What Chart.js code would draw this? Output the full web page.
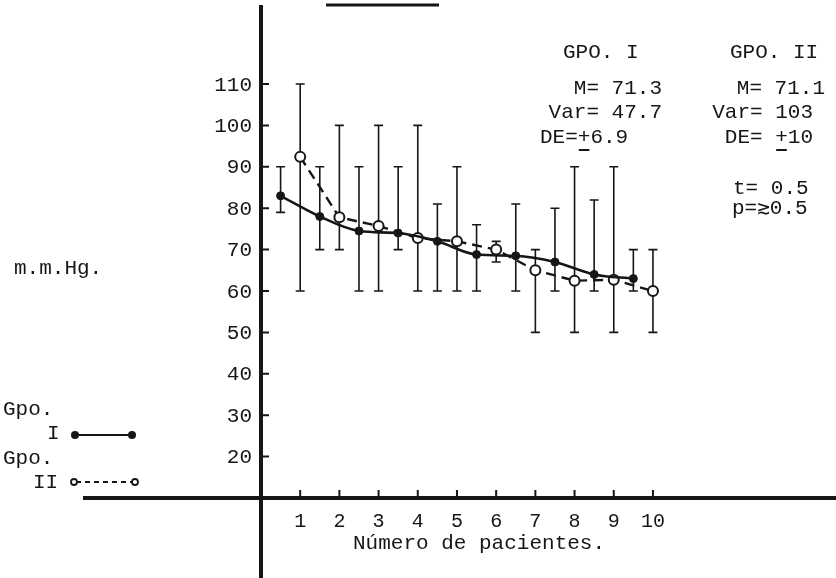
<!DOCTYPE html>
<html>
<head>
<meta charset="utf-8">
<script src="https://cdn.jsdelivr.net/npm/chart.js@4"></script>
<style>
  html, body { margin: 0; padding: 0; background: #fff; }
  #contGrafica { width: 836px; height: 578px; }
</style>
</head>
<body>
<div id="contGrafica"><canvas id="graphicChart"></canvas></div>
<script>
// ejes
const xTicks = [1, 2, 3, 4, 5, 6, 7, 8, 9, 10];
const yTicks = [20, 30, 40, 50, 60, 70, 80, 90, 100, 110];

// Gpo. I (linea continua, puntos llenos)
const gpoIx = [0.5, 1.5, 2.5, 3.5, 4.5, 5.5, 6.5, 7.5, 8.5, 9.5];
const gpoIy = [83, 78, 74.5, 74, 72, 68.8, 68.5, 67, 64, 63];
const gpoIlow = [79, 70, 60, 70, 60, 60, 60, 60, 60, 60];
const gpoIhigh = [90, 90, 90, 90, 81, 76, 81, 80, 82, 70];

// Gpo. II (linea punteada, puntos vacios)
const gpoIIx = [1, 2, 3, 4, 5, 6, 7, 8, 9, 10];
const gpoIIy = [92.4, 77.8, 75.7, 72.8, 72, 70, 65, 62.5, 62.7, 60];
const gpoIIlow = [60, 70, 60, 60, 60, 67, 50, 50, 50, 50];
const gpoIIhigh = [110, 100, 100, 100, 90, 72, 70, 90, 90, 70];

const tinta = "#161616";
const fuente = "'Liberation Mono', 'DejaVu Sans Mono', monospace";

const sinPadding = (s) => {
  s.paddingLeft = 0;
  s.paddingRight = 0;
  s.paddingTop = 0;
  s.paddingBottom = 0;
};

const errorBars = {
  id: "errorBars",
  beforeDatasetsDraw(chart) {
    const { ctx, scales: { x, y } } = chart;
    const dibujar = (xs, lo, hi) => {
      xs.forEach((v, i) => {
        const px = x.getPixelForValue(v);
        const p1 = y.getPixelForValue(lo[i]);
        const p2 = y.getPixelForValue(hi[i]);
        ctx.beginPath();
        ctx.moveTo(px, p1); ctx.lineTo(px, p2);
        ctx.moveTo(px - 4.5, p1); ctx.lineTo(px + 4.5, p1);
        ctx.moveTo(px - 4.5, p2); ctx.lineTo(px + 4.5, p2);
        ctx.stroke();
      });
    };
    ctx.save();
    ctx.strokeStyle = tinta;
    ctx.lineWidth = 1.6;
    dibujar(gpoIx, gpoIlow, gpoIhigh);
    dibujar(gpoIIx, gpoIIlow, gpoIIhigh);
    ctx.restore();
  },
};

const textos = {
  id: "textos",
  afterDraw(chart) {
    const { ctx, scales: { x, y } } = chart;
    ctx.save();
    ctx.strokeStyle = tinta;
    ctx.fillStyle = tinta;

    // marcas de los ejes hacia dentro
    const x0 = x.getPixelForValue(0);
    const y0 = y.getPixelForValue(10);
    ctx.lineWidth = 2;
    ctx.beginPath();
    yTicks.forEach((v) => {
      const py = y.getPixelForValue(v);
      ctx.moveTo(x0 + 1, py); ctx.lineTo(x0 + 8, py);
    });
    xTicks.forEach((v) => {
      const px = x.getPixelForValue(v);
      ctx.moveTo(px, y0 - 1); ctx.lineTo(px, y0 - 8);
    });
    ctx.stroke();

    // raya superior
    ctx.lineWidth = 3;
    ctx.beginPath();
    ctx.moveTo(326, 5); ctx.lineTo(439, 5);
    ctx.stroke();

    ctx.font = `21px ${fuente}`;
    ctx.textBaseline = "middle";
    const escribir = (t, px, py, align = "left") => {
      ctx.textAlign = align;
      ctx.fillText(t, px, py);
    };

    // etiquetas del eje y, a la izquierda de la linea
    yTicks.forEach((v) => escribir(String(v), x0 - 9, y.getPixelForValue(v) + 1, "right"));

    const subrayarMas = (antes, px, py, align = "left", total = "") => {
      const w0 = ctx.measureText(antes).width;
      const wMas = ctx.measureText("+").width;
      const inicio = align === "left" ? px : px - ctx.measureText(total).width;
      ctx.lineWidth = 2;
      ctx.beginPath();
      ctx.moveTo(inicio + w0 + 1, py + 13);
      ctx.lineTo(inicio + w0 + wMas - 1, py + 13);
      ctx.stroke();
    };

    escribir("GPO. I", 563, 52);
    escribir("GPO. II", 730, 52);
    escribir("M= 71.3", 662, 88, "right");
    escribir("Var= 47.7", 662, 112, "right");
    escribir("DE=+6.9", 540, 137);
    subrayarMas("DE=", 540, 137);
    escribir("M= 71.1", 825, 88, "right");
    escribir("Var= 103", 813, 112, "right");
    escribir("DE= +10", 813, 137, "right");
    subrayarMas("DE= ", 813, 137, "right", "DE= +10");
    escribir("t= 0.5", 733, 188);
    escribir("p=\u22730.5", 732, 208);

    escribir("m.m.Hg.", 14, 268);
    escribir("Número de pacientes.", 353, 543);

    // leyenda
    escribir("Gpo.", 3, 409);
    escribir("I", 47, 433);
    escribir("Gpo.", 3, 458);
    escribir("II", 33, 482);

    ctx.lineWidth = 2.2;
    ctx.beginPath();
    ctx.moveTo(75, 435); ctx.lineTo(132, 435);
    ctx.stroke();
    [75, 132].forEach((px) => {
      ctx.beginPath();
      ctx.arc(px, 435, 4, 0, Math.PI * 2);
      ctx.fill();
    });

    ctx.lineWidth = 1.8;
    ctx.setLineDash([5, 4]);
    ctx.beginPath();
    ctx.moveTo(76, 482); ctx.lineTo(133, 482);
    ctx.stroke();
    ctx.setLineDash([]);
    [74, 135].forEach((px) => {
      ctx.beginPath();
      ctx.arc(px, 482, 3, 0, Math.PI * 2);
      ctx.fillStyle = "#fff";
      ctx.fill();
      ctx.stroke();
    });
    ctx.restore();
  },
};

const ctx = document.querySelector("#graphicChart");
new Chart(ctx, {
  type: "line",
  data: {
    datasets: [
      {
        label: "Gpo. I",
        data: gpoIx.map((v, i) => ({ x: v, y: gpoIy[i] })),
        borderColor: tinta,
        borderWidth: 2.6,
        cubicInterpolationMode: "monotone",
        pointRadius: 4,
        pointBackgroundColor: tinta,
        pointBorderColor: tinta,
        pointBorderWidth: 1,
      },
      {
        label: "Gpo. II",
        data: gpoIIx.map((v, i) => ({ x: v, y: gpoIIy[i] })),
        borderColor: tinta,
        borderWidth: 2.4,
        borderDash: [10, 6],
        tension: 0,
        pointRadius: 5,
        pointBackgroundColor: "#fff",
        pointBorderColor: tinta,
        pointBorderWidth: 2,
      },
    ],
  },
  options: {
    responsive: true,
    maintainAspectRatio: false,
    animation: false,
    layout: { autoPadding: false, padding: { left: 85, top: 7, right: 0, bottom: 0 } },
    plugins: { legend: { display: false }, tooltip: { enabled: false } },
    scales: {
      x: {
        type: "linear",
        min: -4.49,
        max: 14.67,
        bounds: "data",
        position: { y: 10 },
        afterBuildTicks: (s) => { s.ticks = xTicks.map((v) => ({ value: v })); },
        afterFit: sinPadding,
        grid: { display: false, drawTicks: false },
        border: { color: tinta, width: 4 },
        ticks: { padding: 12, color: tinta, font: { family: fuente, size: 20 } },
      },
      y: {
        type: "linear",
        min: -9.32,
        max: 128.6,
        bounds: "data",
        position: { x: 0 },
        afterBuildTicks: (s) => { s.ticks = yTicks.map((v) => ({ value: v })); },
        afterFit: sinPadding,
        grid: { display: false, drawTicks: false },
        border: { color: tinta, width: 4 },
        ticks: { display: false },
      },
    },
  },
  plugins: [errorBars, textos],
});
</script>
</body>
</html>
